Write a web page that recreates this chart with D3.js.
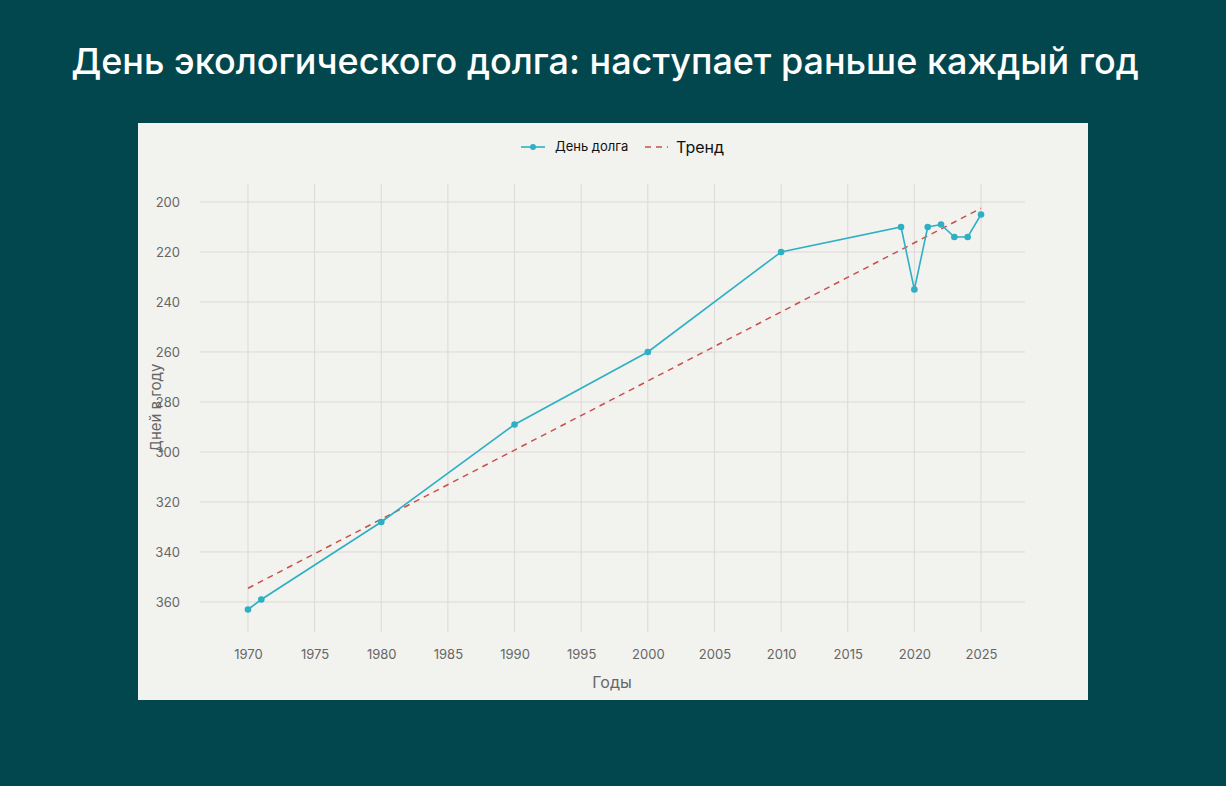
<!DOCTYPE html>
<html>
<head>
<meta charset="utf-8">
<script src="https://cdnjs.cloudflare.com/ajax/libs/d3/7.8.5/d3.min.js"></script>
<style>
    body { margin: 0; background: #02474d; font-family: Inter, "Noto Sans", sans-serif; }
</style>
</head>
<body>
<div id="chart"></div>
<script>
// data
const years = [1970, 1971, 1980, 1990, 2000, 2010, 2019, 2020, 2021, 2022, 2023, 2024, 2025];
const debtDays = [363, 359, 328, 289, 260, 220, 210, 235, 210, 209, 214, 214, 205];
const trendYears = [1970, 2025];
const trendDays = [354.5, 202.5];
const xTicks = [1970, 1975, 1980, 1985, 1990, 1995, 2000, 2005, 2010, 2015, 2020, 2025];
const yTicks = [200, 220, 240, 260, 280, 300, 320, 340, 360];

const W = 1226, H = 786;
const svg = d3.select("#chart").append("svg").attr("width", W).attr("height", H);

svg.append("rect").attr("width", W).attr("height", H).attr("fill", "#02474d");

// title
svg.append("text")
    .attr("x", 605).attr("y", 74)
    .attr("text-anchor", "middle")
    .attr("fill", "#ffffff")
    .style("font-size", "36px")
    .style("font-weight", 500)
    .text("День экологического долга: наступает раньше каждый год");

// panel
svg.append("rect").attr("x", 138).attr("y", 123).attr("width", 950).attr("height", 577).attr("fill", "#f2f2ef");

const plot = {left: 200, right: 1025, top: 184, bottom: 632};

const x = d3.scaleLinear().domain([1966.4, 2028.3]).range([plot.left, plot.right]);
const y = d3.scaleLinear().domain([192.8, 372]).range([plot.top, plot.bottom]);

const g = svg.append("g");

// grid
g.selectAll(".vg").data(xTicks).enter().append("line")
    .attr("x1", d => x(d)).attr("x2", d => x(d))
    .attr("y1", plot.top).attr("y2", plot.bottom)
    .attr("stroke", "#dcd9d6").attr("stroke-width", 1);
g.selectAll(".hg").data(yTicks).enter().append("line")
    .attr("x1", plot.left).attr("x2", plot.right)
    .attr("y1", d => y(d)).attr("y2", d => y(d))
    .attr("stroke", "#dcd9d6").attr("stroke-width", 1);

// axes (labels only)
const xAxis = d3.axisBottom(x).tickValues(xTicks).tickFormat(d3.format("d")).tickSize(0).tickPadding(18);
const yAxis = d3.axisLeft(y).tickValues(yTicks).tickSize(0).tickPadding(20);

const gx = svg.append("g").attr("transform", `translate(0,${plot.bottom})`).call(xAxis);
const gy = svg.append("g").attr("transform", `translate(${plot.left},0)`).call(yAxis);
[gx, gy].forEach(a => {
    a.select(".domain").remove();
    a.selectAll("text").attr("fill", "#666").style("font-size", "13px").style("font-family", "Inter, sans-serif");
});

svg.append("text").attr("x", 612).attr("y", 688).attr("text-anchor", "middle")
    .attr("fill", "#666").style("font-size", "16px").text("Годы");
svg.append("text").attr("transform", "translate(161,408) rotate(-90)").attr("text-anchor", "middle")
    .attr("fill", "#666").style("font-size", "15px").text("Дней в году");

// trend
const trend = trendYears.map((d, i) => ({year: d, v: trendDays[i]}));
g.append("path").datum(trend)
    .attr("d", d3.line().x(d => x(d.year)).y(d => y(d.v)))
    .attr("fill", "none").attr("stroke", "#c8504a").attr("stroke-width", 1.5)
    .attr("stroke-dasharray", "6,5");

// main line
const series = years.map((d, i) => ({year: d, v: debtDays[i]}));
g.append("path").datum(series)
    .attr("d", d3.line().x(d => x(d.year)).y(d => y(d.v)))
    .attr("fill", "none").attr("stroke", "#2eb0c4").attr("stroke-width", 1.6);
g.selectAll(".pt").data(series).enter().append("circle")
    .attr("cx", d => x(d.year)).attr("cy", d => y(d.v)).attr("r", 3.3)
    .attr("fill", "#2eb0c4");

// legend
const lg = svg.append("g");
lg.append("line").attr("x1", 521).attr("x2", 545).attr("y1", 147).attr("y2", 147).attr("stroke", "#2eb0c4").attr("stroke-width", 1.6);
lg.append("circle").attr("cx", 533).attr("cy", 147).attr("r", 3).attr("fill", "#2eb0c4");
lg.append("text").attr("x", 555).attr("y", 151).style("font-size", "13px").attr("fill", "#111").text("День долга");
lg.append("line").attr("x1", 645).attr("x2", 668).attr("y1", 147).attr("y2", 147).attr("stroke", "#c8504a").attr("stroke-width", 1.5).attr("stroke-dasharray", "6,5");
lg.append("text").attr("x", 676).attr("y", 153).style("font-size", "16px").attr("fill", "#111").text("Тренд");
</script>
</body>
</html>
